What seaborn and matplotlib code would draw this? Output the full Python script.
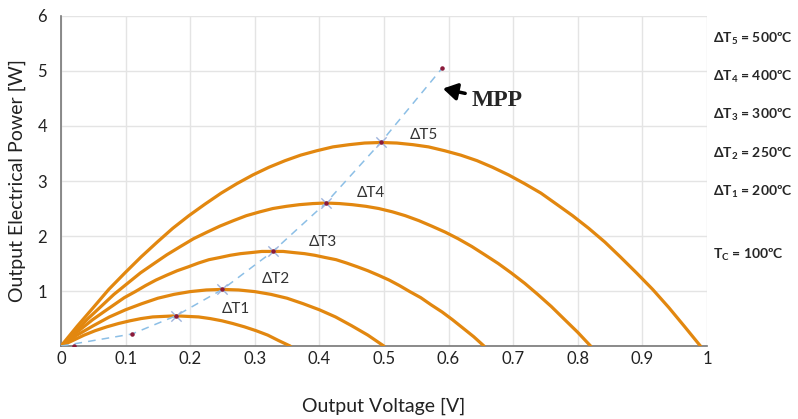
import numpy as np
import pandas as pd
import seaborn as sns
from matplotlib import pyplot as plt

# power curves (V in volts, P in watts)
v_dt1 = [0, .018, .036, .053, .071, .089, .107, .124, .142, .160, .178, .195, .213, .231, .249, .266, .284, .302, .320, .337, .355]
p_dt1 = [0, .10, .20, .28, .35, .41, .46, .50, .53, .54, .55, .54, .53, .50, .46, .41, .35, .28, .20, .10, 0]
v_dt2 = [0, .025, .05, .075, .10, .125, .15, .175, .20, .225, .25, .275, .30, .325, .35, .375, .40, .425, .45, .475, .50]
p_dt2 = [0, .20, .37, .53, .66, .77, .87, .94, .99, 1.02, 1.03, 1.02, .99, .94, .87, .77, .66, .53, .37, .20, 0]
v_dt3 = [0, .016, .033, .049, .066, .082, .098, .115, .131, .147, .164, .180, .197, .213, .229, .246, .262, .278, .295, .311, .328,
         .344, .360, .377, .393, .409, .426, .442, .459, .475, .491, .508, .524, .540, .557, .573, .590, .606, .622, .639, .655]
p_dt3 = [0, .17, .33, .48, .62, .75, .88, .99, 1.10, 1.20, 1.29, 1.37, 1.44, 1.51, 1.57, 1.61, 1.65, 1.68, 1.70, 1.72, 1.72,
         1.72, 1.70, 1.68, 1.65, 1.61, 1.57, 1.51, 1.44, 1.37, 1.29, 1.20, 1.10, .99, .88, .75, .62, .48, .33, .17, 0]
v_dt4 = [0, .021, .041, .062, .082, .103, .123, .144, .164, .185, .205, .226, .246, .267, .287, .308, .328, .349, .369, .390, .41,
         .431, .451, .472, .492, .513, .533, .554, .574, .595, .615, .636, .656, .677, .697, .718, .738, .759, .779, .800, .82]
p_dt4 = [0, .25, .49, .72, .94, 1.14, 1.33, 1.50, 1.66, 1.81, 1.95, 2.07, 2.18, 2.28, 2.37, 2.44, 2.50, 2.54, 2.57, 2.59, 2.60,
         2.59, 2.57, 2.54, 2.50, 2.44, 2.37, 2.28, 2.18, 2.07, 1.95, 1.81, 1.66, 1.50, 1.33, 1.14, .94, .72, .49, .25, 0]
v_dt5 = [0, .025, .050, .074, .099, .124, .149, .173, .198, .223, .248, .272, .297, .322, .347, .371, .396, .421, .446, .470, .495,
         .520, .545, .569, .594, .619, .644, .668, .693, .718, .743, .767, .792, .817, .842, .866, .891, .916, .941, .965, .99]
p_dt5 = [0, .36, .70, 1.03, 1.33, 1.62, 1.89, 2.14, 2.37, 2.58, 2.78, 2.95, 3.11, 3.25, 3.37, 3.47, 3.55, 3.62, 3.66, 3.69, 3.70,
         3.69, 3.66, 3.62, 3.55, 3.47, 3.37, 3.25, 3.11, 2.95, 2.78, 2.58, 2.37, 2.14, 1.89, 1.62, 1.33, 1.03, .70, .36, 0]

curve_names = ["ΔT1", "ΔT2", "ΔT3", "ΔT4", "ΔT5"]
curve_v = [v_dt1, v_dt2, v_dt3, v_dt4, v_dt5]
curve_p = [p_dt1, p_dt2, p_dt3, p_dt4, p_dt5]

# maximum power point trace
mpp_line_v = [0, .11, .178, .25, .328, .41, .495, .59]
mpp_line_p = [0, .22, .55, 1.03, 1.72, 2.60, 3.70, 5.05]
mpp_v = [.178, .25, .328, .41, .495]
mpp_p = [.55, 1.03, 1.72, 2.60, 3.70]
dot_v = [.02, .11, .178, .25, .328, .41, .495, .59]
dot_p = [.01, .22, .55, 1.03, 1.72, 2.60, 3.70, 5.05]

label_pos = [(.27, .67), (.333, 1.22), (.405, 1.89), (.48, 2.78), (.562, 3.84)]

legend_lines = [r"ΔT$_\mathbf{5}$ = 500ºC", r"ΔT$_\mathbf{4}$ = 400ºC", r"ΔT$_\mathbf{3}$ = 300ºC",
                r"ΔT$_\mathbf{2}$ = 250ºC", r"ΔT$_\mathbf{1}$ = 200ºC"]

rows = []
for name, vs, ps in zip(curve_names, curve_v, curve_p):
    for v, p in zip(vs, ps):
        rows.append({"curve": name, "V": v, "P": p})
data = pd.DataFrame(rows)

sns.set_style("white")
plt.rcParams['font.family'] = ['Lato', 'DejaVu Sans']
plt.rcParams['mathtext.fontset'] = 'custom'
plt.rcParams['mathtext.rm'] = 'Lato'
plt.rcParams['mathtext.bf'] = 'Lato:bold'

fig = plt.figure(figsize=(7.98, 4.19), dpi=100)
ax = fig.add_axes([0.0764, 0.174, 0.8095, 0.788])

orange = "#e2870f"
sns.lineplot(data=data, x="V", y="P", units="curve", estimator=None, sort=False,
             color=orange, linewidth=2.3, ax=ax, zorder=3)

ax.plot(mpp_line_v, mpp_line_p, linestyle=(0, (5, 4)), color="#8cbfe6", linewidth=1.1, zorder=4)
ax.scatter(mpp_v, mpp_p, marker="x", s=55, color="#9fb4dc", linewidths=1.0, zorder=5)
ax.scatter(dot_v, dot_p, s=5, color="#8b1a3a", zorder=6)

for name, (x, y) in zip(curve_names, label_pos):
    ax.text(x, y, name, ha="center", va="center", fontsize=11, color="#333333", zorder=7)

ax.annotate("MPP", xy=(.587, 4.69), xytext=(.635, 4.47), fontsize=17, fontweight="bold",
            family="Liberation Serif", va="center", ha="left",
            arrowprops=dict(arrowstyle="-|>,head_width=0.3,head_length=0.5", color="black", lw=2.5))

ax.set_xlim(0, 1)
ax.set_ylim(0, 6)
ax.set_xticks(np.arange(0, 1.01, 0.1))
ax.set_xticklabels(["0", "0.1", "0.2", "0.3", "0.4", "0.5", "0.6", "0.7", "0.8", "0.9", "1"])
ax.set_yticks(range(0, 7))
ax.set_yticklabels(["", "1", "2", "3", "4", "5", "6"])
ax.grid(True, color="#e4e4e4", linewidth=1)
ax.tick_params(direction="in", length=5, color="#777777", labelsize=12, labelcolor="#222222")
ax.tick_params(axis="y", pad=10)
for s in ["top", "right"]:
    ax.spines[s].set_visible(False)
for s in ["left", "bottom"]:
    ax.spines[s].set_color("#777777")
    ax.spines[s].set_linewidth(1.2)

ax.set_xlabel("Output Voltage [V]", fontsize=14, labelpad=22, color="#222222")
ax.set_ylabel("Output Electrical Power [W]", fontsize=14, labelpad=8, color="#222222")

for i, txt in enumerate(legend_lines):
    fig.text(0.893, 0.908 - i * 0.0915, txt, fontsize=10, fontweight="bold", va="center", ha="left")
fig.text(0.893, 0.392, r"T$_\mathbf{C}$ = 100ºC", fontsize=10, fontweight="bold", va="center", ha="left")

fig.savefig("out.png", dpi=100)
